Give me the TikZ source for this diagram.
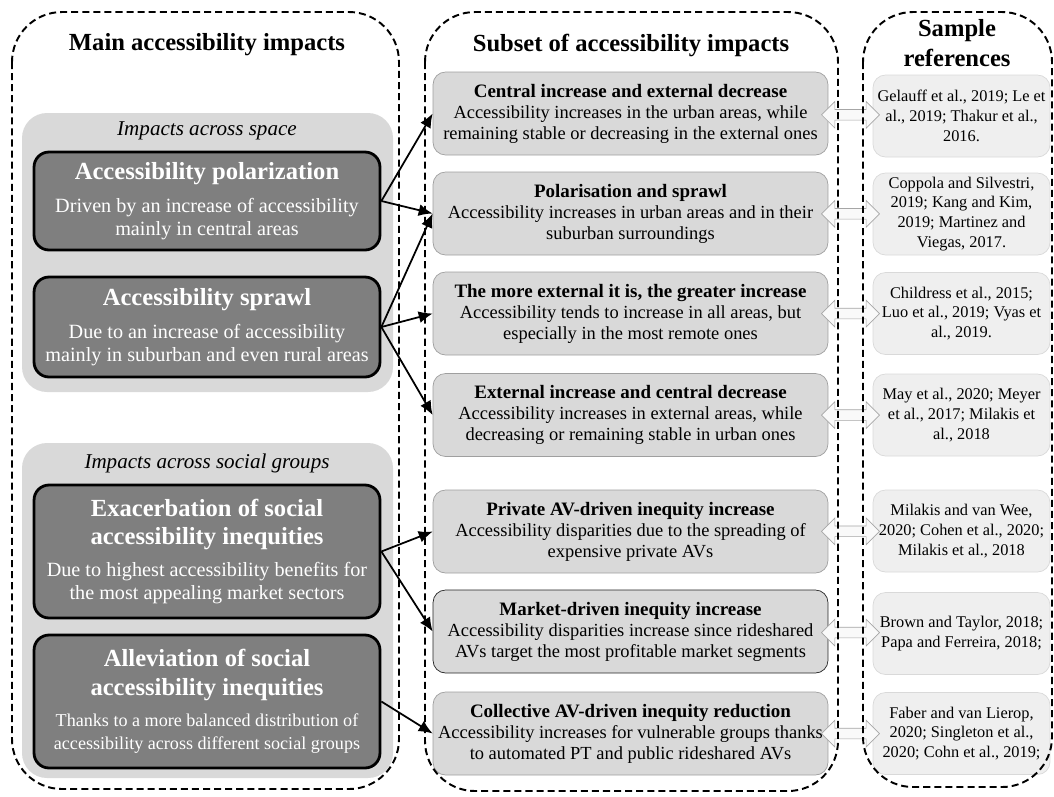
\documentclass[tikz,border=0pt]{standalone}
\usepackage{fontspec}
\setmainfont{Liberation Serif}
\usetikzlibrary{shapes.arrows,arrows.meta,calc}

\definecolor{darkbox}{HTML}{7F7F7F}
\definecolor{panelgray}{HTML}{D9D9D9}
\definecolor{subgray}{HTML}{D9D9D9}
\definecolor{refgray}{HTML}{EFEFEF}

\newcommand{\boxtitle}{\fontsize{14}{16.5}\selectfont\bfseries}
\newcommand{\subtitle}{\fontsize{10.8}{12}\selectfont\bfseries}

\tikzset{
	frame/.style={line width=1.1pt, dash pattern=on 4pt off 2.3pt, rounded corners=1cm},
	panel/.style={fill=panelgray, rounded corners=0.5cm},
	panellabel/.style={font=\fontsize{12}{14}\selectfont\itshape},
	header/.style={font=\fontsize{14}{17}\selectfont\bfseries, align=center},
	mainbox/.style={draw, line width=1.6pt, fill=darkbox, rounded corners=0.3cm, text=white,
		minimum width=6.92cm, align=center, inner sep=0pt, font=\fontsize{11.5}{13}\selectfont},
	subbox/.style={draw=gray!75, fill=subgray, rounded corners=0.25cm, minimum width=7.9cm,
		minimum height=1.66cm, align=center, inner sep=0pt, font=\fontsize{10.5}{12}\selectfont},
	refbox/.style={draw=gray!30, fill=refgray, rounded corners=0.25cm, minimum width=3.54cm,
		minimum height=1.64cm, align=center, inner sep=0pt, font=\fontsize{9.3}{11.3}\selectfont},
	dblarrow/.style={double arrow, draw=gray!70, fill=gray!5, minimum height=1.16cm,
		double arrow head extend=0.16cm, inner xsep=0pt, inner ysep=0.1cm},
	conn/.style={-{Latex[length=2.8mm,width=2.4mm]}, line width=1pt}
}

\begin{document}
\begin{tikzpicture}[x=0.02cm,y=-0.02cm]
	\useasboundingbox (0,0) rectangle (1054,796);
	
	%grey panels behind the main impacts
	\fill[panel] (22,113) rectangle (393,392);
	\fill[panel] (22,443) rectangle (393,778);
	\node[panellabel] (lspace)  at (207,131) {Impacts across space};
	\node[panellabel] (lsocial) at (207,463) {Impacts across social groups};
	
	%headers
	\node[header] (hmain) at (207,45) {Main accessibility impacts};
	\node[header] (hsub)  at (631,45) {Subset of accessibility impacts};
	\node[header] (href)  at (957,43) {Sample\\references};
	
	%main impacts
	\node[mainbox, minimum height=1.96cm] (b1) at (207,201)
		{{\boxtitle Accessibility polarization}\\[6pt]
		 Driven by an increase of accessibility\\mainly in central areas};
	\node[mainbox, minimum height=2.0cm] (b2) at (207,327)
		{{\boxtitle Accessibility sprawl}\\[6pt]
		 Due to an increase of accessibility\\mainly in suburban and even rural areas};
	\node[mainbox, minimum height=2.66cm] (b3) at (207,551.5)
		{{\boxtitle Exacerbation of social}\\[3pt]{\boxtitle accessibility inequities}\\[5pt]
		 Due to highest accessibility benefits for\\the most appealing market sectors};
	\node[mainbox, minimum height=2.66cm] (b4) at (207,701.5)
		{{\boxtitle Alleviation of social}\\[3pt]{\boxtitle accessibility inequities}\\[5pt]
		 {\fontsize{10.3}{13}\selectfont Thanks to a more balanced distribution of}\\
		 {\fontsize{10.3}{13}\selectfont accessibility across different social groups}};
	
	%subset of impacts
	\node[subbox] (m1) at (630.5,113.5)
		{{\subtitle Central increase and external decrease}\\
		 Accessibility increases in the urban areas, while\\remaining stable or decreasing in the external ones};
	\node[subbox] (m2) at (630.5,213.5)
		{{\subtitle Polarisation and sprawl}\\
		 Accessibility increases in urban areas and in their\\suburban surroundings};
	\node[subbox] (m3) at (630.5,313.5)
		{{\subtitle The more external it is, the greater increase}\\
		 Accessibility tends to increase in all areas, but\\especially in the most remote ones};
	\node[subbox] (m4) at (630.5,415)
		{{\subtitle External increase and central decrease}\\
		 Accessibility increases in external areas, while\\decreasing or remaining stable in urban ones};
	\node[subbox] (m5) at (630.5,531.5)
		{{\subtitle Private AV-driven inequity increase}\\
		 Accessibility disparities due to the spreading of\\expensive private AVs};
	\node[subbox, draw=black!85] (m6) at (630.5,631.5)
		{{\subtitle Market-driven inequity increase}\\
		 Accessibility disparities increase since rideshared\\AVs target the most profitable market segments};
	\node[subbox] (m7) at (630.5,733.5)
		{{\subtitle Collective AV-driven inequity reduction}\\
		 Accessibility increases for vulnerable groups thanks\\to automated PT and public rideshared AVs};
	
	%references
	\node[refbox] (r1) at (961.5,116) {Gelauff et al., 2019; Le et\\al., 2019; Thakur et al.,\\2016.};
	\node[refbox] (r2) at (961.5,214) {Coppola and Silvestri,\\2019; Kang and Kim,\\2019; Martinez and\\Viegas, 2017.};
	\node[refbox] (r3) at (961.5,313.5) {Childress et al., 2015;\\Luo et al., 2019; Vyas et\\al., 2019.};
	\node[refbox] (r4) at (961.5,415) {May et al., 2020; Meyer\\et al., 2017; Milakis et\\al., 2018};
	\node[refbox] (r5) at (961.5,531) {Milakis and van Wee,\\2020; Cohen et al., 2020;\\Milakis et al., 2018};
	\node[refbox] (r6) at (961.5,633.5) {Brown and Taylor, 2018;\\Papa and Ferreira, 2018;};
	\node[refbox] (r7) at (961.5,733.5) {Faber and van Lierop,\\2020; Singleton et al.,\\2020; Cohn et al., 2019;};
	
	%double arrows between subset and references
	\foreach \i in {1,...,7}{
		\node[dblarrow] (d\i) at ($(m\i.east)!0.5!(r\i.west)$) {};}
	
	%dashed columns
	\draw[frame] (12,12) rectangle (399,789);
	\draw[frame] (425,12) rectangle (838,791);
	\draw[frame] (863,12) rectangle (1052,787);
	
	%main -> subset
	\foreach \s/\t in {b1/m1,b1/m2,b2/m2,b2/m3,b2/m4,b3/m5,b3/m6,b4/m7}{
		\draw[conn] (\s.east) -- (\t.west);}
\end{tikzpicture}
\end{document}
